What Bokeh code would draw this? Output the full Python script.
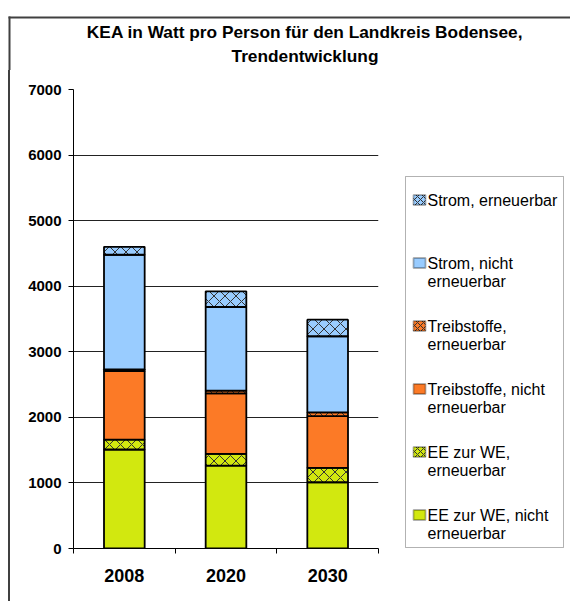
from bokeh.plotting import figure
from bokeh.models import ColumnDataSource, Range1d, FixedTicker, BoxAnnotation, Label, Div
from bokeh.layouts import column, row
from bokeh.embed import file_html
from bokeh.resources import INLINE

# ---- data ----
years = ["2008", "2020", "2030"]
ee_we_nicht = [1510, 1265, 1010]
ee_we_ern = [150, 177, 220]
treib_nicht = [1045, 925, 790]
treib_ern = [25, 42, 57]
strom_nicht = [1750, 1274, 1160]
strom_ern = [120, 239, 253]

series_keys = ["ee_we_nicht", "ee_we_ern", "treib_nicht", "treib_ern", "strom_nicht", "strom_ern"]
legend_lines = [["EE zur WE, nicht", "erneuerbar"], ["EE zur WE,", "erneuerbar"],
                ["Treibstoffe, nicht", "erneuerbar"], ["Treibstoffe,", "erneuerbar"],
                ["Strom, nicht", "erneuerbar"], ["Strom, erneuerbar"]]
y_ticks = [0, 1000, 2000, 3000, 4000, 5000, 6000, 7000]
title_lines = ["KEA in Watt pro Person für den Landkreis Bodensee,", "Trendentwicklung"]

colors = ["#d2e80f", "#d2e80f", "#fc7a26", "#fc7a26", "#99ccff", "#99ccff"]
hatches = [" ", "x", " ", "x", " ", "x"]

FONT = "Liberation Sans"
BORDER = "#404040"


def blank_fig(w, h):
    f = figure(width=w, height=h, output_backend="svg", toolbar_location=None,
               x_axis_type=None, y_axis_type=None, min_border=0)
    f.outline_line_color = None
    f.background_fill_color = "white"
    f.border_fill_color = "white"
    f.xgrid.visible = False
    f.ygrid.visible = False
    return f


def sbox(**kw):
    return BoxAnnotation(left_units="screen", right_units="screen",
                         top_units="screen", bottom_units="screen", **kw)


# ---- title panel ----
TW, TH = 570, 70
t = blank_fig(TW, TH)
t.add_layout(sbox(left=8, right=TW, top=TH - 16, bottom=TH - 18,
                  fill_color=BORDER, fill_alpha=1, line_color=None))
t.add_layout(sbox(left=8, right=10, top=TH - 16, bottom=0,
                  fill_color=BORDER, fill_alpha=1, line_color=None))
for txt, yy in zip(title_lines, [31.5, 55]):
    t.add_layout(Label(x=304.5, y=TH - yy, x_units="screen", y_units="screen", text=txt,
                       text_font=FONT, text_font_style="bold", text_font_size="17.3px",
                       text_color="black", text_align="center", text_baseline="middle"))

# ---- left border strip ----
RH = 528
lb = Div(text="", width=10, height=531, margin=0,
         styles={"background": f"linear-gradient(90deg, #ffffff 8px, {BORDER} 8px)"})

# ---- chart ----
xpos = [i + 0.5 for i in range(len(years))]
source = ColumnDataSource(dict(
    x=xpos,
    ee_we_nicht=ee_we_nicht, ee_we_ern=ee_we_ern,
    treib_nicht=treib_nicht, treib_ern=treib_ern,
    strom_nicht=strom_nicht, strom_ern=strom_ern,
))

p = figure(width=371, height=RH, output_backend="svg", toolbar_location=None,
           x_range=Range1d(0, len(years)), y_range=Range1d(0, 7000),
           min_border_left=63, min_border_right=3, min_border_top=19, min_border_bottom=50)
p.outline_line_color = None
p.background_fill_color = "white"
p.border_fill_color = "white"

p.vbar_stack(series_keys, x="x", width=0.4, source=source,
             fill_color=colors, line_color="black", line_width=1.8,
             hatch_pattern=hatches, hatch_color="#333333", hatch_scale=11, hatch_weight=1)

p.xaxis.ticker = FixedTicker(ticks=xpos, minor_ticks=list(range(len(years) + 1)))
p.xaxis.major_label_overrides = {x: y for x, y in zip(xpos, years)}
p.xaxis.major_tick_line_color = None
p.xaxis.minor_tick_out = 5
p.xaxis.minor_tick_in = 0
p.xaxis.minor_tick_line_color = "black"
p.xaxis.axis_line_color = "black"
p.xaxis.major_label_text_font = FONT
p.xaxis.major_label_text_font_style = "bold"
p.xaxis.major_label_text_font_size = "18px"
p.xaxis.major_label_text_color = "black"
p.xaxis.major_label_standoff = 14

p.yaxis.ticker = FixedTicker(ticks=y_ticks, minor_ticks=[])
p.yaxis.major_tick_out = 5
p.yaxis.major_tick_in = 0
p.yaxis.major_tick_line_color = "black"
p.yaxis.major_label_text_font = FONT
p.yaxis.major_label_text_font_style = "bold"
p.yaxis.major_label_text_font_size = "15px"
p.yaxis.major_label_text_color = "black"
p.yaxis.major_label_standoff = 7
p.yaxis.axis_line_color = "black"

p.xgrid.grid_line_color = None
p.ygrid.ticker = FixedTicker(ticks=y_ticks[1:])
p.ygrid.grid_line_color = "#222222"
p.ygrid.grid_line_width = 1

# ---- legend panel (its frame is aligned with the chart frame: page y 89..548) ----
BW = 189
FB = 548  # page y of frame bottom
b = blank_fig(BW, RH)
b.add_layout(sbox(left=24, right=182, top=FB - 176, bottom=1,
                  fill_color="white", fill_alpha=1, line_color="black", line_width=1))
n = len(series_keys)
for k in range(n):
    i = n - 1 - k
    cy = FB - (199.5 + 63 * k)
    b.add_layout(sbox(left=32, right=44, top=cy + 5, bottom=cy - 5,
                      fill_color=colors[i], fill_alpha=1, line_color="black", line_width=1.8,
                      hatch_pattern=hatches[i], hatch_color="#333333", hatch_scale=6))
    for j, line in enumerate(legend_lines[i]):
        b.add_layout(Label(x=46, y=cy - 18 * j, x_units="screen", y_units="screen", text=line,
                           text_font=FONT, text_font_size="16px", text_color="black",
                           text_align="left", text_baseline="middle"))

layout = column(t, row(lb, p, b))
open("out.html", "w").write(file_html(layout, INLINE))
